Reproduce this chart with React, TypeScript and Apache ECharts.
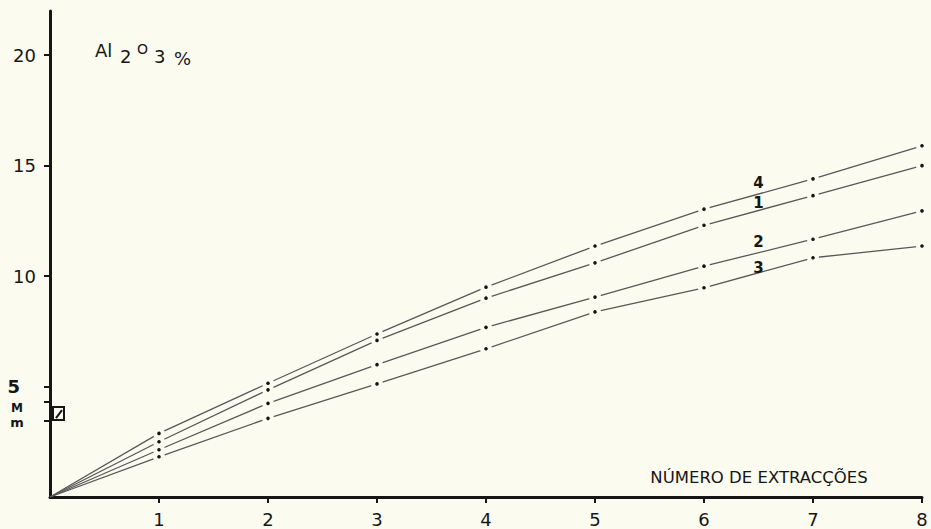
import React, { useEffect, useRef } from "react";
import * as echarts from "echarts";

// Number of extractions (x) and Al2O3 % (y) for curves 4, 1, 2, 3
const extractions = [0, 1, 2, 3, 4, 5, 6, 7, 8];
const curve4 = [0, 2.88, 5.15, 7.38, 9.5, 11.36, 13.03, 14.4, 15.9];
const curve1 = [0, 2.5, 4.85, 7.09, 9.0, 10.6, 12.3, 13.64, 15.0];
const curve2 = [0, 2.14, 4.24, 5.99, 7.68, 9.05, 10.45, 11.67, 12.95];
const curve3 = [0, 1.82, 3.56, 5.12, 6.71, 8.38, 9.47, 10.83, 11.36];
const curveNames = ["4", "1", "2", "3"];
const curveLabelX = 6.5;
const curveLabelY = [14.2, 13.3, 11.55, 10.36];
const yTickValues = [5, 10, 15, 20];
const markM = 4.3;
const markm = 3.44;
const boxTop = 4.07;
const boxBottom = 3.48;

export default function App() {
  const ref = useRef<HTMLDivElement>(null);
  useEffect(() => {
    const el = ref.current!;
    const chart = echarts.init(el, null, { renderer: "svg" });
    const bg = "#fbfbf0";
    const ink = "#161616";
    const curves = [curve4, curve1, curve2, curve3];
    const font = "DejaVu Sans";

    const lineSeries = curves.map((c, i) => ({
      type: "line",
      name: curveNames[i],
      data: c.map((v, j) => [extractions[j], v]),
      symbol: "none",
      lineStyle: { color: "#585858", width: 1.3 },
      silent: true,
      z: 1,
    }));
    const points = curves.flatMap((c) => c.slice(1).map((v, j) => [extractions[j + 1], v]));
    const gaps = {
      type: "scatter",
      data: points,
      symbol: "circle",
      symbolSize: 12,
      itemStyle: { color: bg, opacity: 1, borderWidth: 0 },
      silent: true,
      z: 10,
    };
    const dots = {
      type: "scatter",
      data: points,
      symbol: "circle",
      symbolSize: 3.6,
      itemStyle: { color: ink, opacity: 1 },
      silent: true,
      z: 11,
    };

    chart.setOption({
      animation: false,
      backgroundColor: bg,
      textStyle: { fontFamily: font },
      grid: { left: 50, right: 9, top: 11, bottom: 32 },
      xAxis: {
        type: "value",
        min: 0,
        max: 8,
        interval: 1,
        axisLine: { lineStyle: { color: ink, width: 3 } },
        axisTick: { show: true, length: 6, customValues: extractions.slice(1), lineStyle: { color: ink, width: 2 } },
        splitLine: { show: false },
        axisLabel: { formatter: (v: number) => (v === 0 ? "" : String(v)), fontSize: 18, color: ink, margin: 13, fontFamily: font },
      },
      yAxis: {
        type: "value",
        min: 0,
        max: 22,
        interval: 5,
        axisLine: { lineStyle: { color: ink, width: 3 } },
        axisTick: { show: true, length: 6, customValues: [...yTickValues, markM, markm], lineStyle: { color: ink, width: 2 } },
        splitLine: { show: false },
        axisLabel: {
          showMaxLabel: false,
          formatter: (v: number) => (v === 0 ? "" : v === 5 ? "{f|5}" : String(v)),
          fontSize: 18,
          color: ink,
          margin: 14,
          fontFamily: font,
          rich: { f: { fontSize: 18, color: ink, fontFamily: font, fontWeight: "bold", padding: [0, 16, 0, 0] } },
        },
      },
      series: [...lineSeries, gaps, dots],
    });

    const px = (x: number, y: number) => chart.convertToPixel({ gridIndex: 0 } as any, [x, y]) as number[];
    const origin = px(0, 0);
    const bt = px(0, boxTop);
    const bb = px(0, boxBottom);
    const bx = origin[0] + 3;
    const bw = 11;
    const graphics: any[] = [];
    curveNames.forEach((n, i) => {
      const p = px(curveLabelX, curveLabelY[i]);
      graphics.push({
        type: "text",
        x: p[0],
        y: p[1],
        z: 20,
        style: { text: n, fontSize: 15, fontWeight: "bold", fontFamily: font, fill: ink, textAlign: "center", textVerticalAlign: "middle" },
      });
    });
    graphics.push(
      { type: "rect", shape: { x: bx, y: bt[1], width: bw, height: bb[1] - bt[1] }, style: { fill: "none", stroke: ink, lineWidth: 2 } },
      { type: "line", shape: { x1: bx + 3, y1: bb[1] - 2, x2: bx + bw - 2, y2: bt[1] + 3 }, style: { stroke: ink, lineWidth: 2 } },
      { type: "text", x: 17, y: px(0, 4.03)[1], style: { text: "M", fontSize: 12, fontWeight: "bold", fontFamily: font, fill: ink, textAlign: "center", textVerticalAlign: "middle" } },
      { type: "text", x: 17, y: px(0, 3.39)[1], style: { text: "m", fontSize: 13, fontWeight: "bold", fontFamily: font, fill: ink, textAlign: "center", textVerticalAlign: "middle" } },
      { type: "text", x: 95, y: 50, style: { text: "Al", fontSize: 18, fontFamily: font, fill: ink, textAlign: "left", textVerticalAlign: "middle" } },
      { type: "text", x: 120, y: 56, style: { text: "2", fontSize: 18, fontFamily: font, fill: ink, textAlign: "left", textVerticalAlign: "middle" } },
      { type: "text", x: 137, y: 48.5, style: { text: "O", fontSize: 14, fontFamily: font, fill: ink, textAlign: "left", textVerticalAlign: "middle" } },
      { type: "text", x: 154, y: 56, style: { text: "3", fontSize: 18, fontFamily: font, fill: ink, textAlign: "left", textVerticalAlign: "middle" } },
      { type: "text", x: 174, y: 58, style: { text: "%", fontSize: 18, fontFamily: font, fill: ink, textAlign: "left", textVerticalAlign: "middle" } },
      { type: "text", x: 759, y: 477, style: { text: "NÚMERO DE EXTRACÇÕES", fontSize: 16.5, fontFamily: font, fill: ink, textAlign: "center", textVerticalAlign: "middle" } }
    );
    chart.setOption({ graphic: graphics });

    return () => chart.dispose();
  }, []);
  return <div ref={ref} style={{ position: "fixed", left: 0, top: 0, width: 931, height: 529 }} />;
}
